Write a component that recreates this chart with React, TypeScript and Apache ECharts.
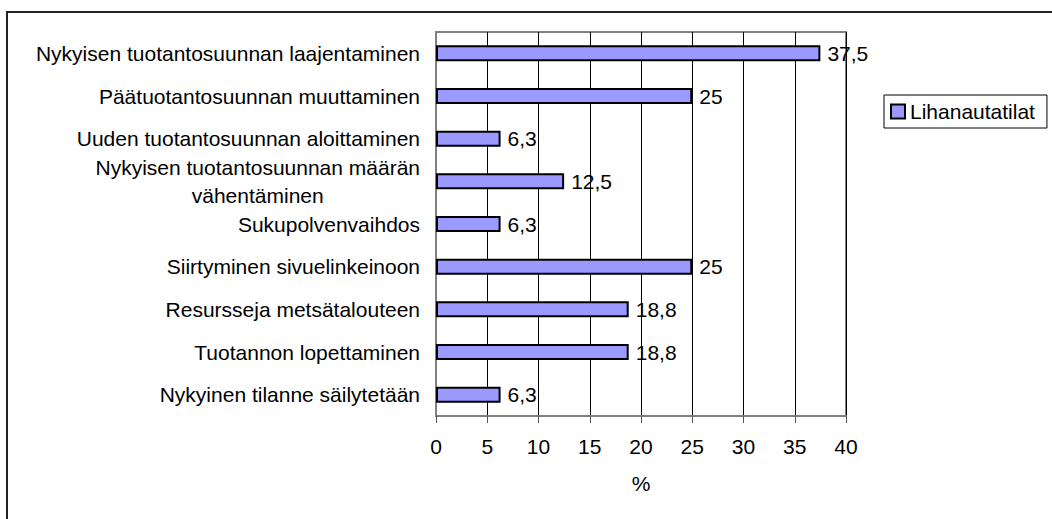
import React, { useEffect, useRef } from "react";
import * as echarts from "echarts";

const categories = [
  "Nykyisen tuotantosuunnan laajentaminen",
  "Päätuotantosuunnan muuttaminen",
  "Uuden tuotantosuunnan aloittaminen",
  "Nykyisen tuotantosuunnan määrän\nvähentäminen",
  "Sukupolvenvaihdos",
  "Siirtyminen sivuelinkeinoon",
  "Resursseja metsätalouteen",
  "Tuotannon lopettaminen",
  "Nykyinen tilanne säilytetään",
];
const seriesName = "Lihanautatilat";
const values = [37.5, 25, 6.3, 12.5, 6.3, 25, 18.8, 18.8, 6.3];
const axisName = "%";

const FONT = "'Liberation Sans', Arial, Helvetica, sans-serif";
const FS = 21;

export default function App() {
  const ref = useRef<HTMLDivElement>(null);
  useEffect(() => {
    if (!ref.current) return;
    const chart = echarts.init(ref.current, null, { renderer: "svg" });
    chart.setOption({
      animation: false,
      backgroundColor: "#ffffff",
      textStyle: { fontFamily: FONT },
      graphic: [
        {
          type: "rect",
          shape: { x: 7, y: 12, width: 1100, height: 600 },
          style: { fill: "none", stroke: "#222", lineWidth: 2 },
          silent: true,
        },
      ],
      legend: {
        left: 884,
        top: 95,
        orient: "vertical",
        borderColor: "#000",
        borderWidth: 1,
        padding: [6, 12, 6, 6],
        itemWidth: 14,
        itemHeight: 14,
        icon: "rect",
        textStyle: { fontFamily: FONT, fontSize: FS, color: "#000" },
        itemStyle: { borderColor: "#000", borderWidth: 2 },
        data: [seriesName],
      },
      grid: {
        left: 436,
        right: 206,
        top: 32,
        bottom: 103,
        show: true,
        borderColor: "#808080",
        borderWidth: 2,
        containLabel: false,
      },
      xAxis: {
        type: "value",
        min: 0,
        max: 40,
        interval: 5,
        name: axisName,
        nameLocation: "middle",
        nameGap: 57,
        nameTextStyle: { fontFamily: FONT, fontSize: FS, color: "#000" },
        axisLine: { show: true, lineStyle: { color: "#808080", width: 2 } },
        axisTick: { show: true, length: 7, lineStyle: { color: "#555", width: 1 } },
        axisLabel: { margin: 20, fontFamily: FONT, fontSize: FS, color: "#000" },
        splitLine: { show: true, lineStyle: { color: "#000", width: 1 } },
      },
      yAxis: {
        type: "category",
        inverse: true,
        data: categories,
        axisLine: { show: true, lineStyle: { color: "#808080", width: 2 } },
        axisTick: { show: false },
        axisLabel: {
          margin: 16,
          fontFamily: FONT,
          fontSize: FS,
          color: "#000",
          lineHeight: 28,
          formatter: (v: string) =>
            v
              .split("\n")
              .map((l) => "{c|" + l + "}")
              .join("\n"),
          rich: {
            c: { align: "center", fontFamily: FONT, fontSize: FS, color: "#000", lineHeight: 28 },
          },
        },
        splitLine: { show: false },
      },
      series: [
        {
          name: seriesName,
          type: "bar",
          data: values,
          barWidth: 16,
          itemStyle: { color: "#9999ff", borderColor: "#000", borderWidth: 2 },
          label: {
            show: true,
            position: "right",
            distance: 7,
            fontFamily: FONT,
            fontSize: FS,
            color: "#000",
            formatter: (p: any) => String(p.value).replace(".", ","),
          },
        },
      ],
    });
    return () => chart.dispose();
  }, []);
  return (
    <div
      ref={ref}
      style={{ position: "fixed", left: 0, top: 0, width: 1052, height: 519 }}
    />
  );
}
